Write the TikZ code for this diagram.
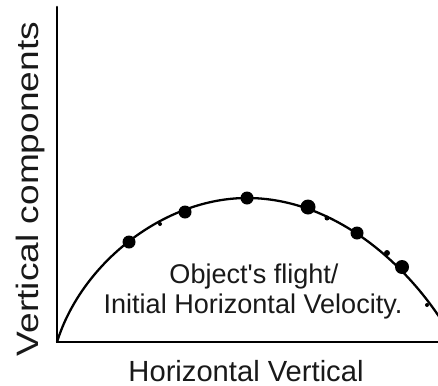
\documentclass[tikz,border=0pt]{standalone}
\usepackage{fontspec}
\setmainfont{Liberation Sans}
\begin{document}
\begin{tikzpicture}[x=0.02cm, y=-0.02cm]
    \tikzstyle{axis} = [line width=1.5pt, line cap=round]
    \tikzstyle{path} = [line width=1.3pt]
    \tikzstyle{bigdot} = [fill=black]
    \tikzstyle{label} = [inner sep=0pt, text=black!90]

    \useasboundingbox (0,0) rectangle (438,385);

    \draw [axis] (57,7) -- (57,342) -- (440,342);

    \draw [path] (57,342) .. controls (82,262) and (165,198) .. (247,198)
                          .. controls (330,198) and (400,258) .. (440,318);

    % measured points
    \fill [bigdot] (129,242) circle (6.5);
    \fill [bigdot] (185,212) circle (6.5);
    \fill [bigdot] (247,198) circle (6.5);
    \fill [bigdot] (308,207) circle (7.5);
    \fill [bigdot] (357,233) circle (6.5);
    \fill [bigdot] (402,267) circle (7);
    \fill [bigdot] (160,224) circle (2);
    \fill [bigdot] (327,218) circle (2.5);
    \fill [bigdot] (387,253) circle (3);
    \fill [bigdot] (427,305) circle (2);

    \node [label, anchor=base, font=\fontsize{16.6}{18}\selectfont] (xlabel) at (246,381) {Horizontal Vertical};
    \node [label, anchor=base, rotate=90, font=\fontsize{17.6}{19}\selectfont] (ylabel) at (38,189) {\scalebox{1.2}[1]{Vertical components}};
    \node [label, anchor=base, font=\fontsize{15.4}{17}\selectfont] (flight) at (254,283) {Object\textquotesingle s flight/};
    \node [label, anchor=base, font=\fontsize{15.4}{17}\selectfont] (velocity) at (253,313) {Initial Horizontal Velocity.};
\end{tikzpicture}
\end{document}
